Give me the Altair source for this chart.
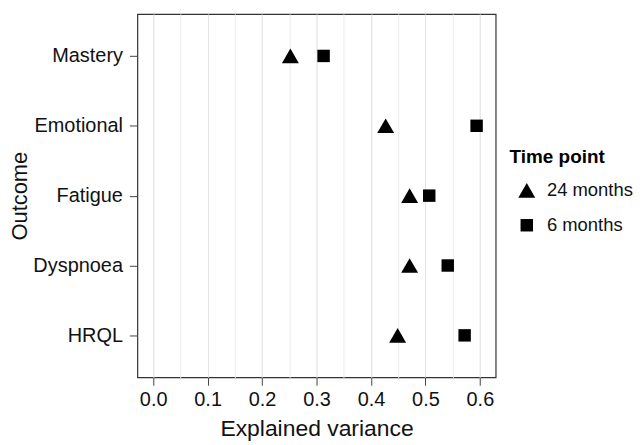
import altair as alt
import pandas as pd

outcomes = ["Mastery", "Emotional", "Fatigue", "Dyspnoea", "HRQL"]
time_points = ["24 months", "6 months"]
var_24_months = [0.252, 0.427, 0.471, 0.471, 0.449]
var_6_months = [0.313, 0.594, 0.507, 0.541, 0.572]
x_tick_values = [0.0, 0.05, 0.1, 0.15, 0.2, 0.25, 0.3, 0.35, 0.4, 0.45, 0.5, 0.55, 0.6]

rows = []
for o, v in zip(outcomes, var_24_months):
    rows.append({"Outcome": o, "Time point": "24 months", "Explained variance": v})
for o, v in zip(outcomes, var_6_months):
    rows.append({"Outcome": o, "Time point": "6 months", "Explained variance": v})
df = pd.DataFrame(rows)

minor_test = "round(datum.value * 100) % 10 != 0"

x_axis = alt.Axis(
    values=x_tick_values,
    labelExpr="round(datum.value * 100) % 10 == 0 ? format(datum.value, '.1f') : ''",
    gridColor={"condition": {"test": minor_test, "value": "#efefef"}, "value": "#e4e4e4"},
    tickOpacity={"condition": {"test": minor_test, "value": 0}, "value": 1},
    domain=False,
    tickSize=8,
    tickColor="#444444",
    labelPadding=4,
    labelFontSize=20,
    labelColor="#111111",
    titleFontSize=23,
    titleFontWeight="normal",
    titleColor="#111111",
    titlePadding=9,
    gridWidth=1.2,
)

y_axis = alt.Axis(
    domain=False,
    tickSize=8,
    tickColor="#444444",
    labelPadding=7,
    labelFontSize=20,
    labelColor="#111111",
    titleFontSize=22,
    titleFontWeight="normal",
    titleColor="#111111",
    titlePadding=1,
    gridColor="#e4e4e4",
    gridWidth=1.2,
)

legend = alt.Legend(
    orient="none",
    legendX=374,
    legendY=135,
    title="Time point",
    titleFontSize=19,
    titleFontWeight="bold",
    titleColor="#000000",
    titlePadding=14,
    labelFontSize=18.5,
    labelColor="#111111",
    labelOffset=11,
    rowPadding=16,
    symbolOffset=8,
    symbolFillColor="#000000",
    symbolStrokeWidth=0,
)

chart = alt.Chart(df).mark_point(filled=True, opacity=1, color="#000000", strokeWidth=0).encode(
    x=alt.X("Explained variance:Q",
            scale=alt.Scale(domain=[-0.029, 0.629], nice=False, zero=False),
            axis=x_axis),
    y=alt.Y("Outcome:N", sort=outcomes,
            scale=alt.Scale(type="point", padding=0.6),
            axis=y_axis),
    shape=alt.Shape("Time point:O",
                    scale=alt.Scale(domain=time_points, range=["triangle-up", "square"]),
                    legend=legend),
    size=alt.Size("Time point:O",
                  scale=alt.Scale(domain=time_points, range=[289, 156]),
                  legend=legend),
).properties(
    width=360,
    height=365,
    padding={"left": 130, "top": 5, "right": 140, "bottom": 67},
    autosize=alt.AutoSizeParams(type="none"),
).configure(
    font="Liberation Sans",
).configure_view(
    stroke="#333333",
    strokeWidth=1.2,
)

chart.save("out.html", embed_options={"renderer": "svg", "actions": False})
